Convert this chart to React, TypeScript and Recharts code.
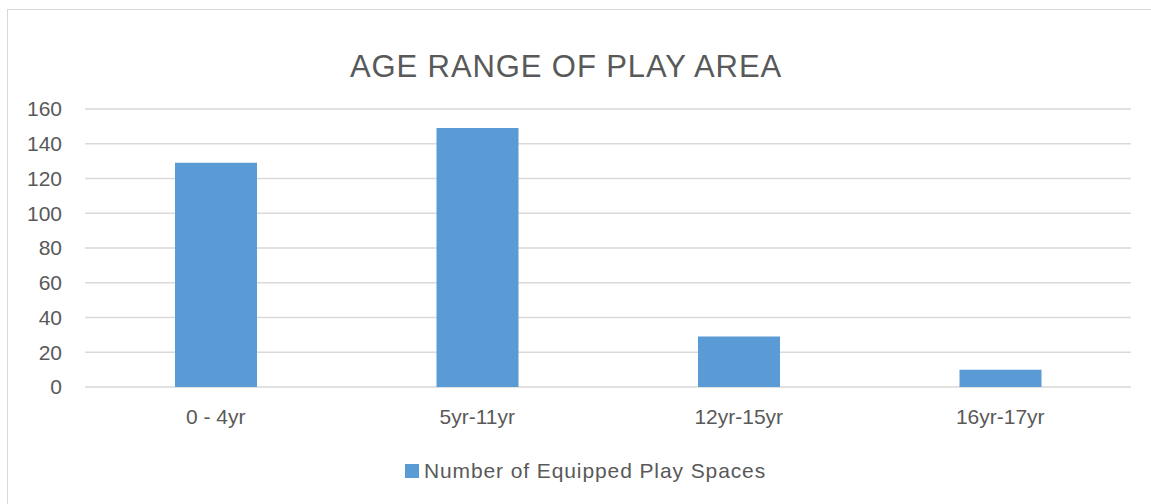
import { BarChart, Bar, XAxis, YAxis, CartesianGrid, Legend } from "recharts";

const ageRanges = ["0 - 4yr", "5yr-11yr", "12yr-15yr", "16yr-17yr"];
const playSpaces = [129, 149, 29, 10];
const yTicks = [0, 20, 40, 60, 80, 100, 120, 140, 160];

const seriesName = "Number of Equipped Play Spaces";
const barColor = "#5b9bd5";
const textColor = "#595959";
const font = "'Liberation Sans', Arial, sans-serif";

const data = ageRanges.map((range, i) => ({ range, count: playSpaces[i] }));

// legend drawn like the office one: small square + grey label
function LegendContent() {
  return (
    <div
      style={{
        height: 60,
        paddingTop: 34,
        paddingLeft: 40,
        boxSizing: "border-box",
        display: "flex",
        justifyContent: "center",
      }}
    >
      <div style={{ height: 20, display: "flex", alignItems: "center" }}>
        <span
          style={{
            width: 14,
            height: 14,
            background: barColor,
            display: "inline-block",
            marginRight: 5,
          }}
        />
        <span
          style={{
            fontFamily: font,
            fontSize: 21,
            letterSpacing: "0.9px",
            color: textColor,
          }}
        >
          {seriesName}
        </span>
      </div>
    </div>
  );
}

export default function App() {
  return (
    <div
      style={{
        position: "fixed",
        left: 0,
        top: 0,
        width: 1151,
        height: 504,
        overflow: "hidden",
        background: "#fff",
      }}
    >
      {/* outer chart frame */}
      <div
        style={{
          position: "absolute",
          left: 7,
          top: 9,
          width: 1160,
          height: 510,
          border: "1px solid #d9d9d9",
        }}
      />
      <div
        style={{
          position: "absolute",
          left: 0,
          top: 51,
          width: 1132,
          textAlign: "center",
          fontFamily: font,
          fontSize: 31,
          letterSpacing: "0.9px",
          lineHeight: "31px",
          color: textColor,
        }}
      >
        AGE RANGE OF PLAY AREA
      </div>
      <div style={{ position: "absolute", left: 0, top: 0 }}>
        <BarChart
          width={1151}
          height={504}
          data={data}
          margin={{ top: 109, right: 20, bottom: 17, left: 0 }}
        >
          <CartesianGrid
            vertical={false}
            stroke="#d9d9d9"
            strokeWidth={1.5}
          />
          <XAxis
            dataKey="range"
            height={40}
            axisLine={false}
            tickLine={false}
            tickMargin={16}
            interval={0}
            tick={{ fill: textColor, fontSize: 21, fontFamily: font }}
          />
          <YAxis
            width={85}
            domain={[0, 160]}
            ticks={yTicks}
            axisLine={false}
            tickLine={false}
            tickMargin={17}
            tick={{ fill: textColor, fontSize: 21, fontFamily: font }}
          />
          <Legend verticalAlign="bottom" content={<LegendContent />} />
          <Bar
            dataKey="count"
            name={seriesName}
            fill={barColor}
            barSize={82}
            isAnimationActive={false}
          />
        </BarChart>
      </div>
    </div>
  );
}
